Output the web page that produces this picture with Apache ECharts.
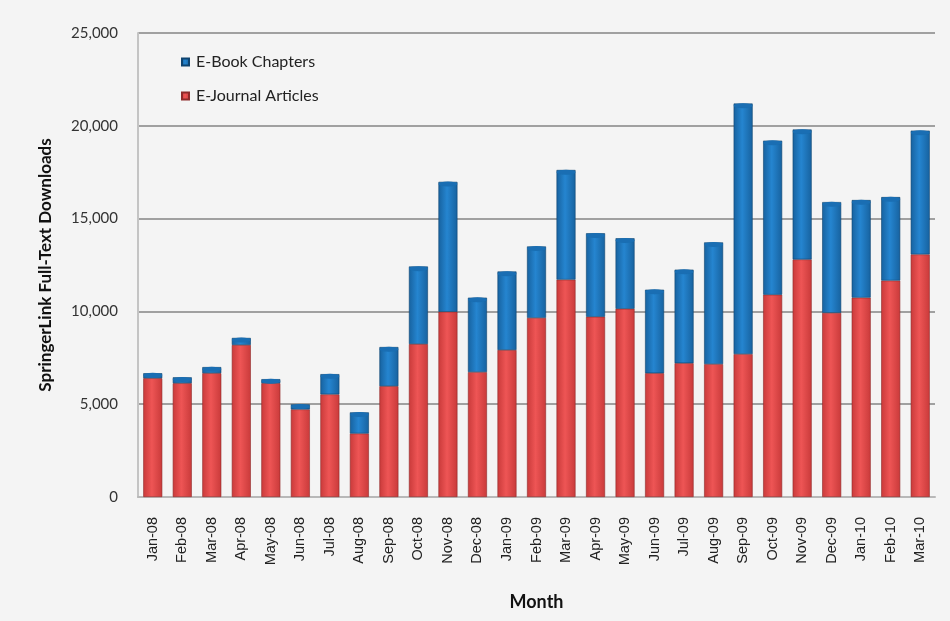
<!DOCTYPE html>
<html>
<head>
<meta charset="utf-8">
<title>SpringerLink Full-Text Downloads</title>
<script src="https://cdn.jsdelivr.net/npm/echarts@6/dist/echarts.min.js"></script>
<style>
  html, body { margin: 0; padding: 0; background: #f4f4f4; }
  #chart { width: 950px; height: 621px; }
</style>
</head>
<body>
<div id="chart"></div>
<script>
// Monthly SpringerLink full-text downloads, Jan 2008 – Mar 2010
const months = ['Jan-08','Feb-08','Mar-08','Apr-08','May-08','Jun-08','Jul-08','Aug-08','Sep-08',
  'Oct-08','Nov-08','Dec-08','Jan-09','Feb-09','Mar-09','Apr-09','May-09','Jun-09','Jul-09',
  'Aug-09','Sep-09','Oct-09','Nov-09','Dec-09','Jan-10','Feb-10','Mar-10'];

const journalArticles = [6400, 6130, 6670, 8190, 6130, 4720, 5530, 3420, 5970,
  8240, 9980, 6730, 7920, 9650, 11710, 9710, 10140, 6670, 7210,
  7160, 7700, 10900, 12800, 9920, 10740, 11660, 13070];

const bookChapters = [270, 320, 330, 380, 220, 270, 1090, 1140, 2110,
  4180, 7000, 4010, 4230, 3850, 5910, 4500, 3800, 4500, 5040,
  6560, 13500, 8300, 7000, 5970, 5260, 4500, 6670];

const yTicks = { min: 0, max: 25000, interval: 5000 };

const totals = journalArticles.map((v, i) => v + bookChapters[i]);

// horizontal shading so each column reads as a cylinder
function cylinder(edge, mid) {
  return new echarts.graphic.LinearGradient(0, 0, 1, 0, [
    { offset: 0, color: edge },
    { offset: 0.45, color: mid },
    { offset: 1, color: edge }
  ]);
}

const FONT = 'Lato';

const chart = echarts.init(document.getElementById('chart'));
chart.setOption({
  backgroundColor: '#f4f4f4',
  animation: false,
  grid: { left: 138, right: 15, top: 33, bottom: 124 },
  legend: {
    data: ['E-Book Chapters', 'E-Journal Articles'],
    orient: 'vertical',
    left: 176,
    top: 49,
    itemGap: 18,
    itemWidth: 7,
    itemHeight: 7,
    icon: 'rect',
    textStyle: { fontFamily: FONT, fontSize: 16, color: '#222', padding: [0, 0, 0, 2] }
  },
  xAxis: {
    type: 'category',
    data: months,
    name: 'Month',
    nameLocation: 'middle',
    nameGap: 96,
    nameTextStyle: { fontFamily: FONT, fontWeight: 'bold', fontSize: 18, color: '#111' },
    axisLine: { lineStyle: { color: '#b8b8b8', width: 2 } },
    axisTick: { show: false },
    axisLabel: { rotate: 90, margin: 20, fontFamily: 'Liberation Sans', fontSize: 14.5, color: '#222', interval: 0 }
  },
  yAxis: {
    type: 'value',
    min: yTicks.min,
    max: yTicks.max,
    interval: yTicks.interval,
    name: 'SpringerLink Full-Text Downloads',
    nameLocation: 'middle',
    nameGap: 84,
    nameTextStyle: { fontFamily: FONT, fontWeight: 'bold', fontSize: 17, color: '#111' },
    axisLine: { show: true, lineStyle: { color: '#c4c4c4', width: 2 } },
    axisTick: { show: false },
    axisLabel: {
      margin: 20, fontFamily: FONT, fontSize: 15, color: '#333',
      formatter: v => v.toLocaleString('en-US')
    },
    splitLine: { lineStyle: { color: '#a0a0a0', width: 2 } }
  },
  series: [
    {
      name: 'E-Journal Articles',
      type: 'bar',
      stack: 'downloads',
      data: journalArticles,
      barWidth: 19,
      color: '#e84a4a',
      itemStyle: { color: cylinder('#c93a3a', '#ee5555'), borderColor: '#8e2a2a', borderWidth: 0.6 }
    },
    {
      name: 'E-Book Chapters',
      type: 'bar',
      stack: 'downloads',
      data: bookChapters,
      barWidth: 19,
      color: '#1f7bc6',
      itemStyle: { color: cylinder('#17629f', '#2585d0'), borderColor: '#0f4470', borderWidth: 0.6 }
    },
    {
      name: 'cap',
      type: 'pictorialBar',
      data: totals,
      symbol: 'circle',
      symbolSize: [19, 5],
      symbolPosition: 'end',
      symbolOffset: [0, '-10%'],
      z: 5,
      itemStyle: { color: '#1a6eb3', borderColor: '#0f4470', borderWidth: 0.6 },
      silent: true
    }
  ]
});
</script>
</body>
</html>
